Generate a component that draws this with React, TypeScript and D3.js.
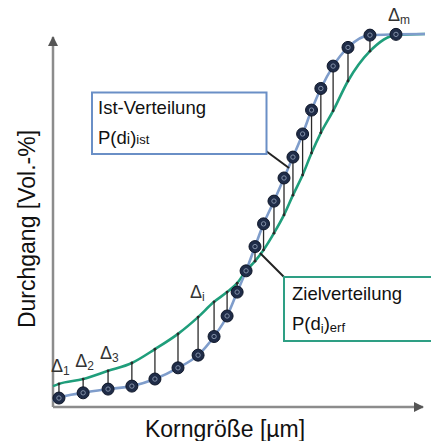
import * as d3 from "d3";

// Korngröße (arbitrary units 0..100) of the measured points
const korn = [1.6, 8.1, 14.8, 21.2, 27.4, 33.6, 39.0, 43.3, 46.8, 49.5, 51.9, 54.3, 56.6, 59.4, 62.1, 64.5, 67.1, 69.5, 72.0, 75.3, 79.3, 85.2, 92.2];
// Ist-Verteilung P(di)ist [Vol.-%]
const ist = [2.4, 3.8, 4.8, 5.6, 7.5, 10.5, 13.9, 18.9, 24.4, 30.8, 36.5, 43.0, 49.1, 55.2, 61.4, 67.0, 73.2, 79.6, 85.4, 91.4, 96.4, 99.7, 99.9];
// Zielverteilung P(di)erf [Vol.-%] at the same Korngröße
const erf = [6.2, 7.5, 9.7, 11.8, 15.5, 19.6, 24.1, 28.2, 30.8, 33.2, 36.5, 39.1, 42.1, 46.6, 51.5, 56.8, 62.2, 68.1, 73.5, 79.4, 87.4, 95.4, 99.7];
// curve ends (x = 0 and x = 100)
const istEnds = [1.6, 100];
const erfEnds = [5.6, 100];
// points that carry a Δ label
const deltaIdx = [0, 1, 2, 6, 22];
const deltaSub = ["1", "2", "3", "i", "m"];

const W = 431;
const H = 441;
const FONT = "'Liberation Sans', Arial, sans-serif";

export default function App() {
  const x = d3.scaleLinear().domain([0, 100]).range([53, 425]);
  const y = d3.scaleLinear().domain([0, 100]).range([407, 34]);

  const istPts: [number, number][] = [[0, istEnds[0]], ...korn.map((k, i) => [k, ist[i]] as [number, number]), [100, istEnds[1]]];
  const erfPts: [number, number][] = [[0, erfEnds[0]], ...korn.map((k, i) => [k, erf[i]] as [number, number]), [100, erfEnds[1]]];

  const line = d3
    .line<[number, number]>()
    .x((d) => x(d[0]))
    .y((d) => y(d[1]))
    .curve(d3.curveMonotoneX);

  const axisColor = "#8c8c8c";
  const blue = "#7f9dcb";
  const green = "#1f9e7b";

  // how far a Δ label sits above its deviation
  const liftFor = (s: string) => (s === "i" ? 19 : s === "m" ? 13 : 12);

  return (
    <svg
      width={W}
      height={H}
      style={{ position: "absolute", left: 0, top: 0, background: "#fff" }}
      fontFamily={FONT}
    >
      <defs>
        <marker id="arr" viewBox="0 0 10 10" refX="9" refY="5" markerWidth="4" markerHeight="4" orient="auto">
          <path d="M0,0 L10,5 L0,10 z" fill="#555" />
        </marker>
      </defs>

      {/* axes */}
      <line x1={x(0)} y1={y(0)} x2={x(0)} y2={37} stroke={axisColor} strokeWidth={2.5} markerEnd="url(#arr)" />
      <line x1={x(0)} y1={y(0)} x2={423} y2={y(0)} stroke={axisColor} strokeWidth={2.5} markerEnd="url(#arr)" />

      {/* curves */}
      <path d={line(erfPts) || ""} fill="none" stroke={green} strokeWidth={2.6} />
      <path d={line(istPts) || ""} fill="none" stroke={blue} strokeWidth={2.6} />

      {/* deviations */}
      {korn.map((k, i) => (
        <line key={"s" + i} x1={x(k)} x2={x(k)} y1={y(ist[i])} y2={y(erf[i])} stroke="#2a2a2a" strokeWidth={1.3} />
      ))}
      {korn.map((k, i) => (
        <circle key={"e" + i} cx={x(k)} cy={y(erf[i])} r={1.4} fill="#2a2a2a" />
      ))}

      {/* measured points */}
      {korn.map((k, i) => (
        <g key={"p" + i}>
          <circle cx={x(k)} cy={y(ist[i])} r={6} fill="#1f2c48" stroke="#0e1628" strokeWidth={1} />
          <circle cx={x(k)} cy={y(ist[i])} r={2.2} fill="none" stroke="#8290a8" strokeWidth={1} />
        </g>
      ))}

      {/* Δ labels */}
      {deltaIdx.map((idx, j) => {
        const top = Math.min(y(ist[idx]), y(erf[idx]));
        const cx = x(korn[idx]);
        return (
          <text key={"d" + j} x={cx - 8} y={top - liftFor(deltaSub[j])} fontSize={18} fill="#333">
            Δ
            <tspan fontSize={12} dy={3}>
              {deltaSub[j]}
            </tspan>
          </text>
        );
      })}

      {/* Ist box */}
      <line x1={266} y1={151} x2={289} y2={168} stroke="#222" strokeWidth={2} />
      <rect x={92} y={92.5} width={174.5} height={61.5} fill="#fff" stroke="#6a8fc6" strokeWidth={2} />
      <text x={98} y={114} fontSize={18.5} fill="#111">Ist-Verteilung</text>
      <text x={98} y={144} fontSize={18.5} fill="#111">
        P(d<tspan fontSize={15}>i</tspan>)<tspan fontSize={13}>ist</tspan>
      </text>

      {/* Ziel box */}
      <line x1={260} y1={253} x2={284} y2={277} stroke="#222" strokeWidth={2} />
      <rect x={284} y={277} width={152} height={64} fill="#fff" stroke="#2e9f84" strokeWidth={2} />
      <text x={292} y={300} fontSize={18.5} fill="#111">Zielverteilung</text>
      <text x={292} y={330} fontSize={18.5} fill="#111">
        P(d<tspan fontSize={13} dy={3}>i</tspan>
        <tspan dy={-3}>)</tspan>
        <tspan fontSize={13} dy={2}>erf</tspan>
      </text>

      {/* axis titles */}
      <text x={225} y={437} fontSize={23} textAnchor="middle" fill="#111">
        Korngröße [µm]
      </text>
      <text transform="translate(35,229) rotate(-90)" fontSize={23} textAnchor="middle" fill="#111">
        Durchgang [Vol.-%]
      </text>
    </svg>
  );
}
